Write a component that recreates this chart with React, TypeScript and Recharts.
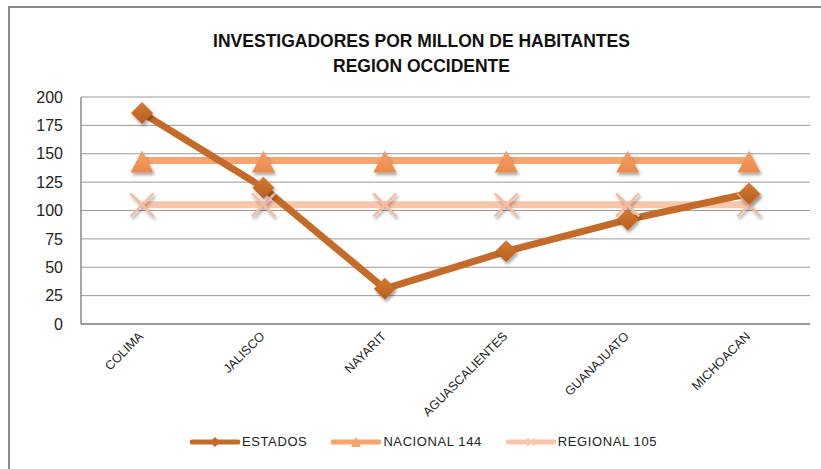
import React from "react";
import { CartesianGrid, Line, LineChart, XAxis, YAxis } from "recharts";

const states = ["COLIMA", "JALISCO", "NAYARIT", "AGUASCALIENTES", "GUANAJUATO", "MICHOACAN"];
const estados = [186, 120, 31, 64, 92, 115];
const nacional = [144, 144, 144, 144, 144, 144];
const regional = [105, 105, 105, 105, 105, 105];
const yTicks = [0, 25, 50, 75, 100, 125, 150, 175, 200];
const titleLines = ["INVESTIGADORES POR MILLON DE HABITANTES", "REGION OCCIDENTE"];

const FONT = "'Liberation Sans', Arial, sans-serif";
const C_EST = "#C56B2A";
const C_NAC = "#F7A46E";
const C_REG = "#F8C6AA";

const data = states.map((name, i) => ({
  name,
  estados: estados[i],
  nacional: nacional[i],
  regional: regional[i],
}));

const series = [
  { key: "estados", label: "ESTADOS", color: C_EST, marker: "diamond" },
  { key: "nacional", label: "NACIONAL 144", color: C_NAC, marker: "triangle" },
  { key: "regional", label: "REGIONAL 105", color: C_REG, marker: "x" },
];

function Diamond({ cx, cy }: any) {
  if (cx == null || cy == null) return null;
  const r = 11;
  return (
    <polygon
      points={`${cx},${cy - r} ${cx + r},${cy} ${cx},${cy + r} ${cx - r},${cy}`}
      fill="url(#gDiamond)"
      filter="url(#shadow)"
    />
  );
}

function Triangle({ cx, cy }: any) {
  if (cx == null || cy == null) return null;
  return (
    <polygon
      points={`${cx},${cy - 10} ${cx + 11.5},${cy + 12} ${cx - 11.5},${cy + 12}`}
      fill="url(#gTriangle)"
      filter="url(#shadow)"
    />
  );
}

function Cross({ cx, cy }: any) {
  if (cx == null || cy == null) return null;
  const r = 11.5;
  return (
    <g stroke="#F6BB9C" strokeWidth={2.5} filter="url(#shadow)">
      <line x1={cx - r} y1={cy - r} x2={cx + r} y2={cy + r} />
      <line x1={cx - r} y1={cy + r} x2={cx + r} y2={cy - r} />
    </g>
  );
}

function StateTick({ x, y, payload }: any) {
  const tx = x + 2;
  const ty = y + 5;
  return (
    <text
      x={tx}
      y={ty}
      transform={`rotate(-45 ${tx} ${ty})`}
      textAnchor="end"
      fontFamily={FONT}
      fontSize={12.5}
      fill="#222"
    >
      {payload.value}
    </text>
  );
}

function LegendIcon({ marker, color }: { marker: string; color: string }) {
  return (
    <svg width={50} height={12} style={{ display: "block" }}>
      <line x1={2} y1={6} x2={48} y2={6} stroke={color} strokeWidth={5} strokeLinecap="round" />
      {marker === "diamond" && <polygon points="25,1 30,6 25,11 20,6" fill={color} />}
      {marker === "triangle" && <polygon points="25,1 30,11 20,11" fill={color} />}
      {marker === "x" && (
        <g stroke={color} strokeWidth={1.5}>
          <line x1={21} y1={2} x2={29} y2={10} />
          <line x1={21} y1={10} x2={29} y2={2} />
        </g>
      )}
    </svg>
  );
}

export default function App() {
  return (
    <div
      style={{
        position: "absolute",
        left: 0,
        top: 0,
        width: 821,
        height: 469,
        overflow: "hidden",
        background: "#fff",
        fontFamily: FONT,
      }}
    >
      <div
        style={{
          position: "absolute",
          left: 8,
          top: 6,
          width: 840,
          height: 490,
          border: "2px solid #8a8a8a",
        }}
      />
      <div
        style={{
          position: "absolute",
          left: 0,
          top: 29,
          width: 843,
          textAlign: "center",
          fontWeight: "bold",
          fontSize: 17.5,
          lineHeight: "25px",
          color: "#111",
        }}
      >
        {titleLines.map((t) => (
          <div key={t}>{t}</div>
        ))}
      </div>
      <div style={{ position: "absolute", left: 0, top: 0 }}>
        <LineChart
          width={821}
          height={469}
          data={data}
          margin={{ top: 97, right: 11, left: 21, bottom: 85 }}
        >
          <defs>
            <filter id="shadow" x="-50%" y="-50%" width="200%" height="200%">
              <feDropShadow dx={1.5} dy={2.5} stdDeviation={1.5} floodColor="#000" floodOpacity={0.35} />
            </filter>
            <linearGradient id="gDiamond" x1="0" y1="0" x2="0" y2="1">
              <stop offset="0%" stopColor="#D27A33" />
              <stop offset="100%" stopColor="#B85F1E" />
            </linearGradient>
            <linearGradient id="gTriangle" x1="0" y1="0" x2="0" y2="1">
              <stop offset="0%" stopColor="#F7A066" />
              <stop offset="100%" stopColor="#E98A4B" />
            </linearGradient>
          </defs>
          <CartesianGrid vertical={false} stroke="#9a9a9a" strokeWidth={1} />
          <XAxis
            dataKey="name"
            height={60}
            padding={{ left: 61, right: 61 }}
            tickLine={false}
            axisLine={{ stroke: "#8a8a8a", strokeWidth: 1.5 }}
            interval={0}
            tick={<StateTick />}
          />
          <YAxis
            width={60}
            domain={[0, 200]}
            ticks={yTicks}
            tickLine={false}
            tickMargin={12}
            axisLine={{ stroke: "#8a8a8a", strokeWidth: 1.5 }}
            tick={{ fontFamily: FONT, fontSize: 16, fill: "#222" }}
          />
          <Line
            dataKey="nacional"
            stroke={C_NAC}
            strokeWidth={7}
            dot={<Triangle />}
            activeDot={false}
            isAnimationActive={false}
          />
          <Line
            dataKey="regional"
            stroke={C_REG}
            strokeWidth={7}
            dot={<Cross />}
            activeDot={false}
            isAnimationActive={false}
          />
          <Line
            dataKey="estados"
            stroke={C_EST}
            strokeWidth={7}
            dot={<Diamond />}
            activeDot={false}
            isAnimationActive={false}
          />
        </LineChart>
      </div>
      <div
        style={{
          position: "absolute",
          top: 434,
          left: 190,
          display: "flex",
          alignItems: "center",
          gap: 24,
          fontSize: 13,
          color: "#222",
        }}
      >
        {series.map((s) => (
          <div key={s.key} style={{ display: "flex", alignItems: "center", gap: 2 }}>
            <LegendIcon marker={s.marker} color={s.color} />
            <span style={{ letterSpacing: 0.6 }}>{s.label}</span>
          </div>
        ))}
      </div>
    </div>
  );
}
